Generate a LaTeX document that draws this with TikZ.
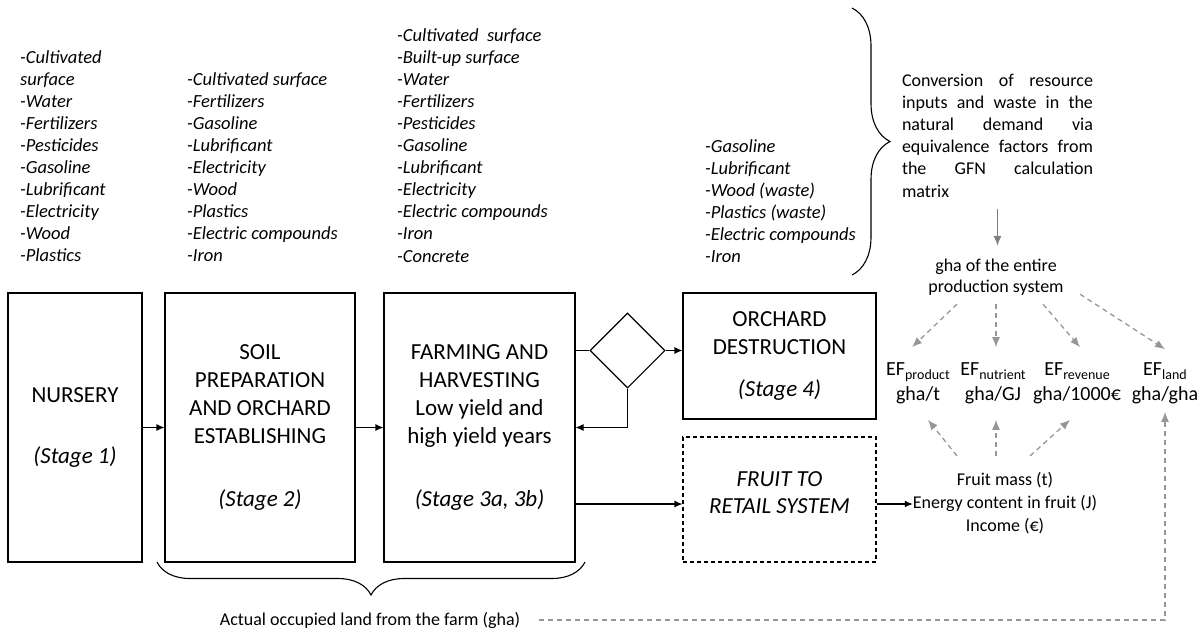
\documentclass[tikz,border=0pt]{standalone}
\usepackage{fontspec}
\setmainfont{Carlito}
\usetikzlibrary{arrows.meta,decorations.pathreplacing,shapes.geometric,calc}
\definecolor{arrgray}{RGB}{128,128,128}
\definecolor{dashgray}{RGB}{150,150,150}
\newcommand{\efsub}[1]{\raisebox{-0.45ex}{\fontsize{14}{14}\selectfont #1}}
\begin{document}
\begin{tikzpicture}[x=1pt,y=-1pt,
  box/.style={draw=black, line width=1.1pt, align=center, inner sep=0pt,
    font=\fontsize{23}{28}\selectfont},
  listtxt/.style={anchor=base west, inner sep=0pt, font=\fontsize{18.5}{22}\selectfont\itshape},
  plaintxt/.style={inner sep=0pt, align=center, font=\fontsize{18}{23}\selectfont},
  eftxt/.style={inner sep=0pt, align=center, font=\fontsize{20}{25}\selectfont},
  arr/.style={line width=1.1pt, -{Latex[length=8pt,width=7pt]}},
  ln/.style={line width=1.1pt},
  garr/.style={draw=arrgray, line width=1.3pt, -{Latex[length=10pt,width=8pt]}},
  gdarr/.style={draw=dashgray, line width=1.3pt, dash pattern=on 5pt off 4pt, -{Latex[length=10pt,width=8pt]}},
  brc/.style={draw=black, line width=1.1pt, decorate}
]
\useasboundingbox (0,0) rectangle (1204,633);

% input lists
\foreach \t [count=\i] in {-Cultivated, surface, -Water, -Fertilizers, -Pesticides, -Gasoline, -Lubrificant, -Electricity, -Wood, -Plastics}
  \node[listtxt] (la-\i) at (20, 63+22.1*\i-22.1) {\t};
\foreach \t [count=\i] in {-Cultivated surface, -Fertilizers, -Gasoline, -Lubrificant, -Electricity, -Wood, -Plastics, -Electric compounds, -Iron}
  \node[listtxt] (lb-\i) at (187, 85+22.1*\i-22.1) {\t};
\foreach \t [count=\i] in {-Cultivated\ \ surface, -Built-up surface, -Water, -Fertilizers, -Pesticides, -Gasoline, -Lubrificant, -Electricity, -Electric compounds, -Iron, -Concrete}
  \node[listtxt] (lc-\i) at (397, 41+22.1*\i-22.1) {\t};
\foreach \t [count=\i] in {-Gasoline, -Lubrificant, -Wood (waste), -Plastics (waste), -Electric compounds, -Iron}
  \node[listtxt] (ld-\i) at (705, 152+22.1*\i-22.1) {\t};

% main boxes
\node[box, minimum width=134, minimum height=269] (nursery) at (75,427.5)
  {NURSERY\\[33pt]\textit{(Stage 1)}};
\node[box, minimum width=190, minimum height=269] (soil) at (260,427.5)
  {SOIL\\PREPARATION\\AND ORCHARD\\ESTABLISHING\\[35pt]\textit{(Stage 2)}};
\node[box, minimum width=191, minimum height=269] (farm) at (479.5,427.5)
  {FARMING AND\\HARVESTING\\Low yield and\\high yield years\\[35pt]\textit{(Stage 3a, 3b)}};
\node[box, minimum width=193, minimum height=126] (orchard) at (779.5,356)
  {ORCHARD\\DESTRUCTION\\[14pt]\textit{(Stage 4)}};
\node[box, dashed, dash pattern=on 4pt off 3pt, minimum width=193, minimum height=125,
  font=\fontsize{23}{27}\selectfont\itshape] (fruit) at (779.5,499.5)
  {FRUIT TO\\RETAIL SYSTEM\\[-14pt]\mbox{}};
\node[draw=black, line width=1.1pt, diamond, aspect=1, inner sep=0pt,
  minimum width=75, minimum height=75] (dia) at (627.5,350.5) {};

% black connectors
\draw[arr] (nursery.east) -- (soil.west);
\draw[arr] (soil.east) -- (farm.west);
\draw[ln] (farm.east |- dia.west) -- (dia.west);
\draw[arr] (dia.east) -- (orchard.west |- dia.east);
\draw[arr] (dia.south) |- (farm.east);
\draw[arr] (farm.east |- 0,504) -- (fruit.west |- 0,504);

% outputs
\node[plaintxt] (outs) at (1005,503)
  {Fruit mass (t)\\Energy content in fruit (J)\\Income (€)};
\draw[arr] (fruit.east |- 0,504) -- (outs.west |- 0,504);

% braces
\draw[brc, decoration={brace, amplitude=38pt}] (852,8) -- (852,275);
\draw[brc, decoration={brace, amplitude=33pt}] (585,562) -- (157,562);

% conversion text
\node[inner sep=0pt, align=left, font=\fontsize{18}{22.2}\selectfont] (conv) at (997.5,135.5)
  {\makebox[191pt][s]{Conversion of resource}\\
   \makebox[191pt][s]{inputs and waste in the}\\
   \makebox[191pt][s]{natural demand via}\\
   \makebox[191pt][s]{equivalence factors from}\\
   \makebox[191pt][s]{the GFN calculation}\\
   \makebox[191pt][l]{matrix}};
\node[plaintxt, font=\fontsize{18}{20.5}\selectfont] (gha) at (996,277)
  {gha of the entire\\production system};
\draw[garr, shorten <=12pt, shorten >=13pt] (conv.south) -- (gha.north -| conv.south);

% EF nodes
\node[eftxt] (efp) at (918,383) {EF\efsub{product}\\gha/t};
\node[eftxt] (efn) at (993,383) {EF\efsub{nutrient}\\gha/GJ};
\node[eftxt] (efr) at (1077,383) {EF\efsub{revenue}\\gha/1000€};
\node[eftxt] (efl) at (1165,383) {EF\efsub{land}\\gha/gha};

% dashed arrows from gha
\draw[gdarr] ($(gha.south)+(-39,9)$) -- ($(efp.north)+(-6,-15)$);
\draw[gdarr] ($(gha.south)+(0,9)$) -- ($(efn.north)+(3,-15)$);
\draw[gdarr] ($(gha.south)+(47,9)$) -- ($(efr.north)+(3,-15)$);
\draw[gdarr] ($(gha.south)+(84,-1)$) -- ($(efl.north)+(0,-13)$);

% dashed arrows from outputs
\draw[gdarr] ($(outs.north)+(-48,-16)$) -- ($(efp.south)+(10,16)$);
\draw[gdarr] ($(outs.north)+(-9,-16)$) -- ($(efn.south)+(3,16)$);
\draw[gdarr] ($(outs.north)+(25,-16)$) -- ($(efr.south)+(-7,16)$);

% land
\node[plaintxt] (land) at (370,620) {Actual occupied land from the farm (gha)};
\draw[gdarr] ([xshift=19pt]land.east) -| ([yshift=-8pt]efl.south);

\end{tikzpicture}
\end{document}
